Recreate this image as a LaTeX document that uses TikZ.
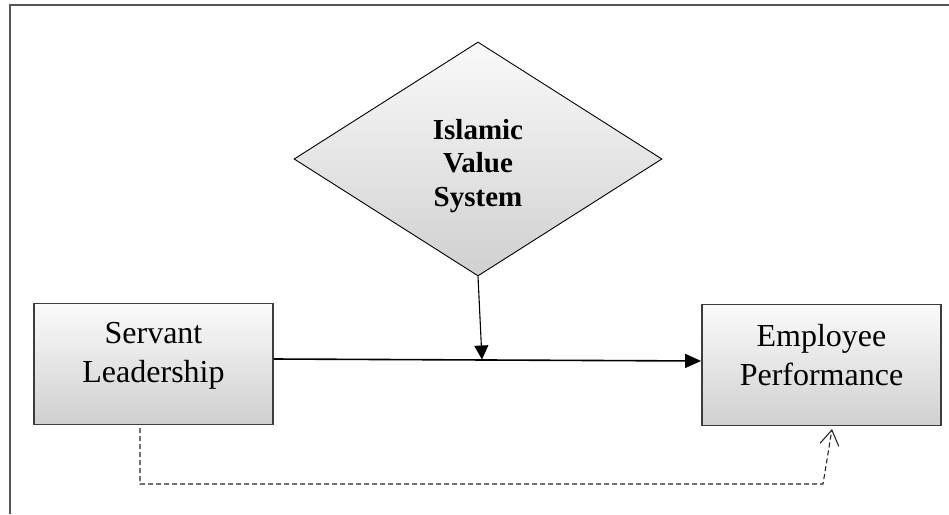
\documentclass[tikz,border=0pt]{standalone}
\usepackage{fontspec}
\setmainfont{Liberation Serif}
\usetikzlibrary{shapes.geometric,arrows.meta,calc}
\definecolor{framegray}{HTML}{555555}
\definecolor{boxborder}{HTML}{3C3C3C}
\definecolor{topfill}{HTML}{FAFAFA}
\definecolor{botfill}{HTML}{D0D0D0}
\tikzset{
  varbox/.style={draw=boxborder, line width=1.8pt, rectangle, top color=topfill, bottom color=botfill, minimum width=239pt, minimum height=121pt, inner sep=0pt},
  vartext/.style={anchor=north, inner sep=0pt, align=center, font=\fontsize{32}{39}\selectfont},
  moderator/.style={draw=black, line width=0.9pt, diamond, top color=topfill, bottom color=botfill, minimum width=368pt, minimum height=234pt, inner sep=0pt},
  modtext/.style={inner sep=0pt, align=center, font=\fontsize{29}{33.5}\selectfont\bfseries},
  mainarrow/.style={line width=1.6pt, -{Triangle[length=16pt,width=14pt]}},
  modarrow/.style={line width=1.1pt, -{Triangle[length=14pt,width=14pt]}},
  dasharrow/.style={line width=1.1pt, draw=black!85, dash pattern=on 5pt off 3pt, -{Straight Barb[length=15pt,width=19pt,line width=1.1pt]}}
}
\begin{document}
\begin{tikzpicture}[x=1pt,y=-1pt]
\useasboundingbox (0,0) rectangle (949,514);
% frame
\draw[line width=2pt, framegray] (9.5,514) -- (9.5,5) -- (949,5);
% nodes
\node[varbox] (sl) at (153.5,364) {};
\node[varbox] (ep) at (821.5,365) {};
\node[vartext] (slt) at ($(sl.north)+(0,20)$) {Servant\\Leadership};
\node[vartext] (ept) at ($(ep.north)+(0,20)$) {Employee\\Performance};
\node[moderator] (dia) at (478,159) {};
\node[modtext] (diat) at (478,166) {Islamic\\Value\\System};
% connectors
\coordinate (m) at (482,359.5);
\draw[mainarrow] ($(sl.east)+(0,-5)$) -- ($(ep.west)+(0,-4)$);
\draw[modarrow] (dia.south) -- (m);
\coordinate (d0) at (140,428);
\coordinate (d1) at (140,484);
\coordinate (d2) at (823,484);
\coordinate (d3) at (832,429);
\draw[dasharrow] (d0) -- (d1) -- (d2) -- (d3);
\end{tikzpicture}
\end{document}
